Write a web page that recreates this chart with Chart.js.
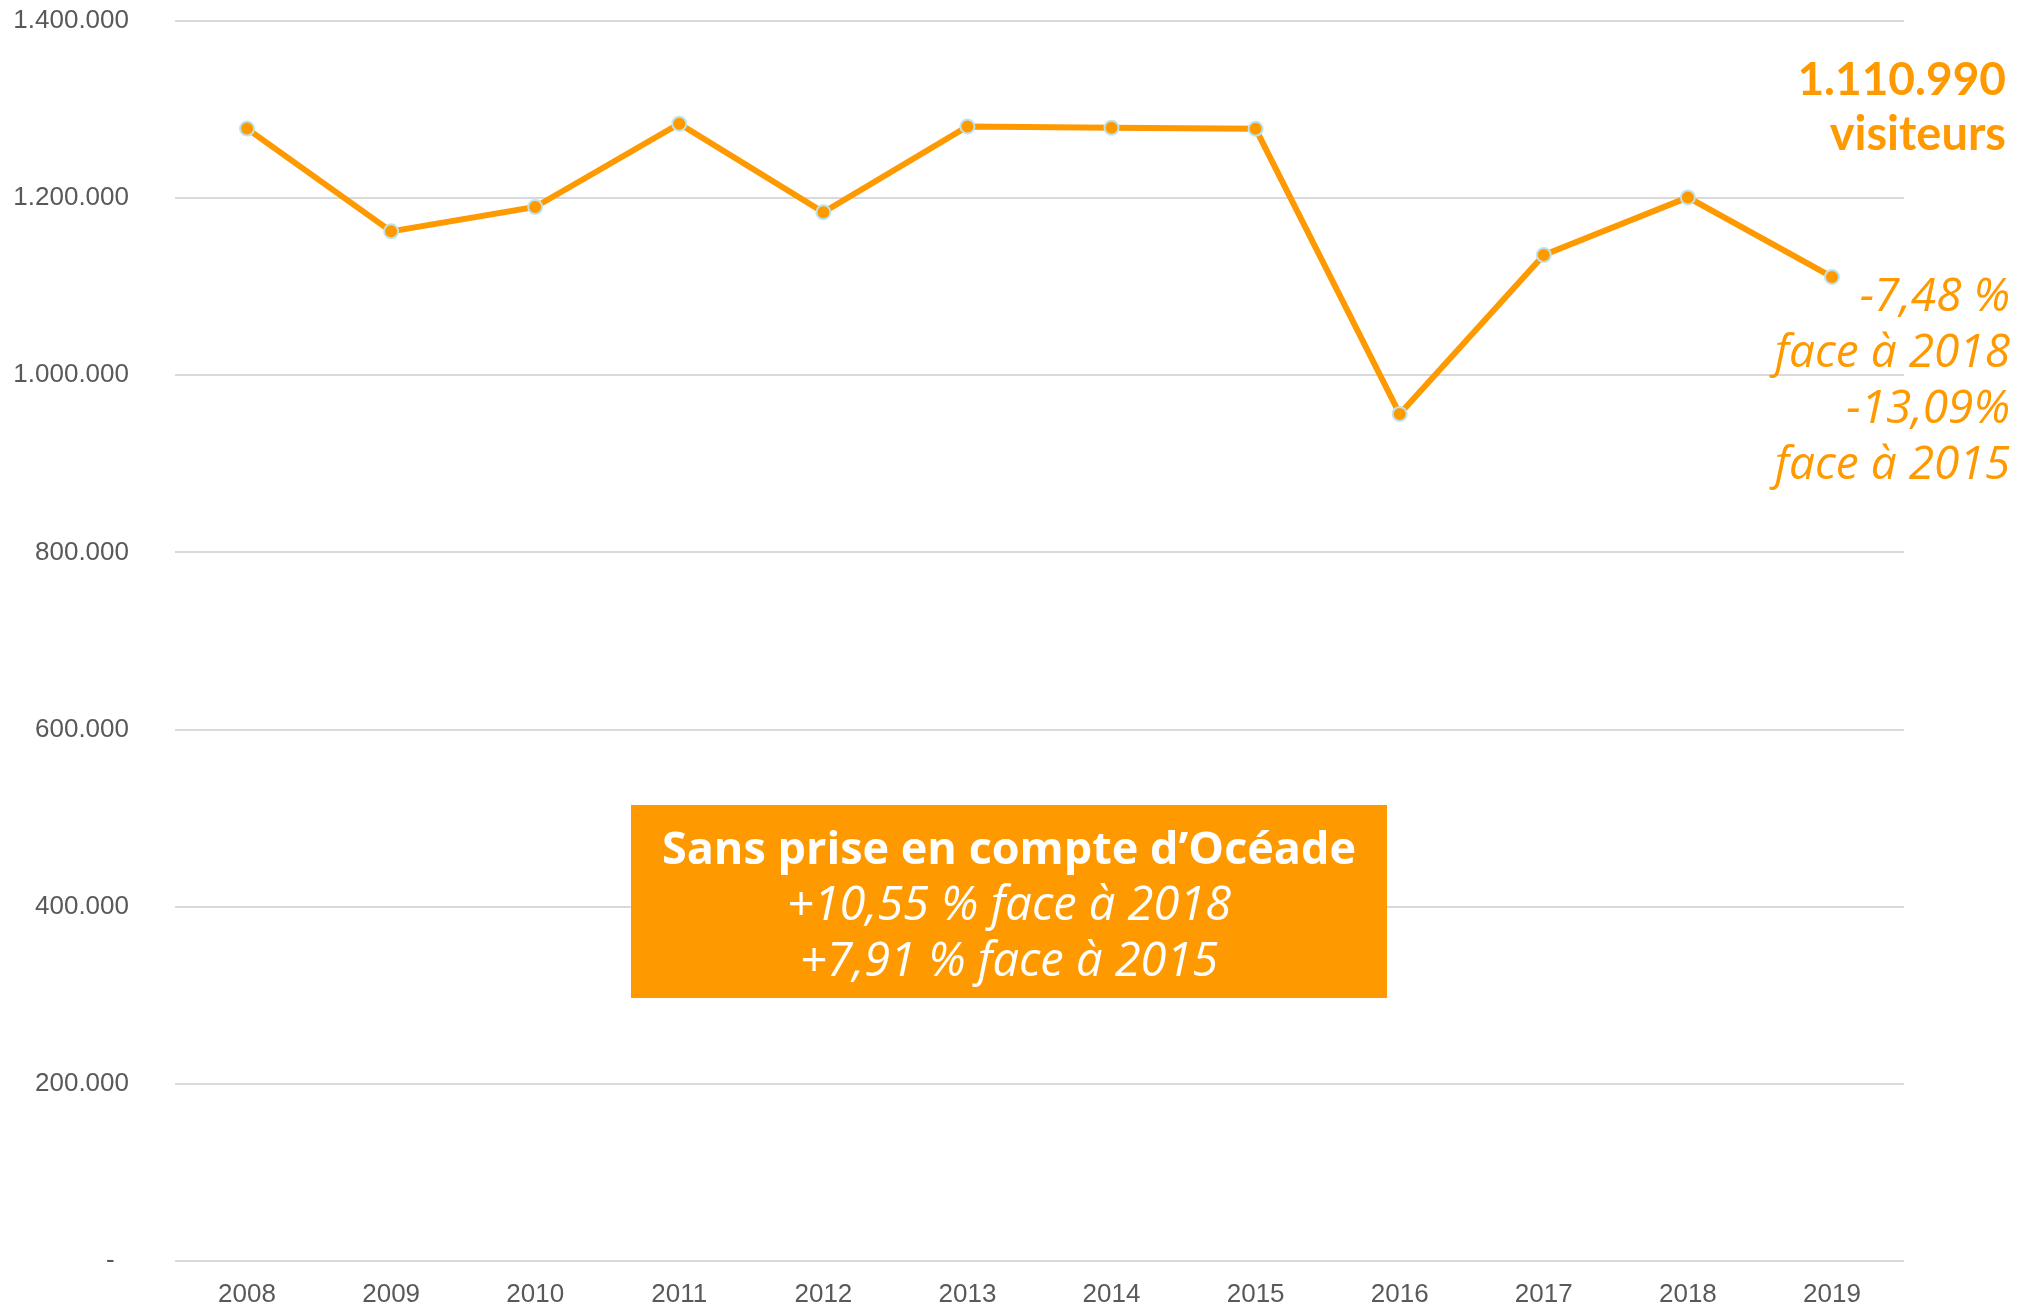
<!DOCTYPE html>
<html>
<head>
<meta charset="utf-8">
<script src="https://cdn.jsdelivr.net/npm/chart.js@4.4.1/dist/chart.umd.min.js"></script>
<style>
  html, body { margin: 0; padding: 0; background: #fff; }
  #visitChart { display: block; }
</style>
</head>
<body>
<canvas id="visitChart" width="2036" height="1306"></canvas>
<script>
// visitor counts per year
const years = ['2008', '2009', '2010', '2011', '2012', '2013', '2014', '2015', '2016', '2017', '2018', '2019'];
const visitors = [1278500, 1162500, 1190000, 1284000, 1184000, 1281000, 1279500, 1278300, 956300, 1135800, 1200800, 1110990];

const yMax = 1400000;
const yStep = 200000;

// annotation texts
const totalLines = ['1.110.990', 'visiteurs'];
const changeLines = ['-7,48 %', 'face à 2018', '-13,09%', 'face à 2015'];
const boxTitle = 'Sans prise en compte d\u2019Océade';
const boxLines = ['+10,55 % face à 2018', '+7,91 % face à 2015'];

const orange = '#ff9900';

// format numbers like 1.400.000
const fmt = (v) => String(v).replace(/\B(?=(\d{3})+(?!\d))/g, '.');

const notesPlugin = {
  id: 'notes',
  afterDraw(chart) {
    const ctx = chart.ctx;
    ctx.save();

    // total on the right
    ctx.fillStyle = orange;
    ctx.textAlign = 'right';
    ctx.textBaseline = 'alphabetic';
    ctx.font = 'bold 46px Lato';
    ctx.fillText(totalLines[0], 2006, 95);
    ctx.font = 'bold 47px Lato';
    ctx.fillText(totalLines[1], 2006, 150);

    ctx.font = 'italic 46px "Open Sans"';
    changeLines.forEach((t, i) => ctx.fillText(t, 2010, 311 + i * 56));

    // orange box in the middle
    ctx.fillRect(631, 805, 756, 193);
    ctx.fillStyle = '#fff';
    ctx.textAlign = 'center';
    ctx.font = 'bold 45px "Open Sans"';
    ctx.fillText(boxTitle, 1009, 864);
    ctx.font = 'italic 47px "Open Sans"';
    boxLines.forEach((t, i) => ctx.fillText(t, 1009, 920 + i * 56));

    ctx.restore();
  }
};

new Chart('visitChart', {
  type: 'line',
  data: {
    labels: years,
    datasets: [{
      data: visitors,
      borderColor: orange,
      backgroundColor: orange,
      borderWidth: 6,
      pointRadius: 7,
      pointBorderWidth: 2,
      pointBackgroundColor: orange,
      pointBorderColor: '#bfe3ea',
      tension: 0
    }]
  },
  options: {
    responsive: false,
    animation: false,
    layout: {
      padding: { top: 21, right: 132, bottom: 0, left: 0 }
    },
    plugins: {
      legend: { display: false },
      tooltip: { enabled: false }
    },
    scales: {
      x: {
        offset: true,
        grid: { display: false, drawTicks: false },
        border: { display: false },
        ticks: {
          color: '#595959',
          font: { family: 'Liberation Sans, Arial', size: 26 },
          padding: 18,
          maxRotation: 0
        },
        afterFit: (scale) => {
          scale.height = 45;
          scale.paddingLeft = 0;
          scale.paddingRight = 0;
        }
      },
      y: {
        min: 0,
        max: yMax,
        grid: {
          color: '#d9d9d9',
          lineWidth: 2,
          drawTicks: false
        },
        border: { display: false },
        ticks: {
          stepSize: yStep,
          color: '#595959',
          font: { family: 'Liberation Sans, Arial', size: 26 },
          padding: 46,
          callback: (v) => v === 0 ? '-  ' : fmt(v)
        },
        afterFit: (scale) => {
          scale.width = 175;
          scale.paddingTop = 0;
          scale.paddingBottom = 0;
        }
      }
    }
  },
  plugins: [notesPlugin]
});
</script>
</body>
</html>
